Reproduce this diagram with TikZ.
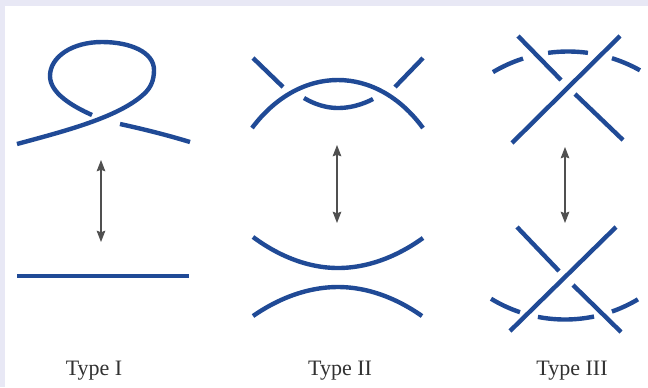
\documentclass[tikz,border=0pt]{standalone}
\usepackage{fontspec}
\setmainfont{Liberation Serif}
\usetikzlibrary{arrows.meta}
\definecolor{knot}{RGB}{32,74,150}
\definecolor{framebg}{RGB}{232,232,245}
\definecolor{arrowgray}{RGB}{80,80,80}
\definecolor{labelgray}{RGB}{50,50,50}
\begin{document}
\begin{tikzpicture}[x=0.75pt,y=-0.75pt,
  strand/.style={draw=knot,line width=3.3pt},
  move/.style={draw=arrowgray,line width=0.8pt,
    {Stealth[length=8.5pt,width=6.5pt,inset=1.2pt]}-{Stealth[length=8.5pt,width=6.5pt,inset=1.2pt]}},
  lbl/.style={anchor=base,font=\fontsize{16.5}{19}\selectfont,text=labelgray}]
\fill[framebg] (0,0) rectangle (648,387);
\fill[white] (5,6) rectangle (648,387);
\useasboundingbox (0,0) rectangle (648,387);

% ---------- Type I ----------
\draw[strand] (17,144) .. controls (65,131) and (120,117) .. (145,93)
  .. controls (151,87) and (154,80) .. (154,70)
  .. controls (154,52) and (130,42) .. (102,42)
  .. controls (72,42) and (50,57) .. (50,76)
  .. controls (50,93) and (72,106) .. (92,115);
\draw[strand] (120,124) .. controls (143,129) and (167,135) .. (190,142);
\draw[strand] (17,276) -- (189,276);
\coordinate (a1t) at (101,160);
\coordinate (a1b) at (101,242);
\draw[move] (a1t) -- (a1b);

% ---------- Type II ----------
\draw[strand] (252,128) .. controls (300,64) and (376,64) .. (423,128);
\draw[strand] (304,98) parabola bend (338,108) (373,99);
\draw[strand] (253,58) -- (283,87);
\draw[strand] (423,58) -- (395,87);
\draw[strand] (253,237) parabola bend (338,268) (423,238);
\draw[strand] (253,316) parabola bend (338,287) (422,316);
\coordinate (a2t) at (337,145);
\coordinate (a2b) at (337,223);
\draw[move] (a2t) -- (a2b);

% ---------- Type III ----------
\draw[strand] (512,143) -- (620,36);
\draw[strand] (518,36) -- (561,80);
\draw[strand] (575,94) -- (623,140);
\draw[strand] plot[domain=120.7:107.8,samples=20] ({568+147*cos(\x)},{198.5-147*sin(\x)});
\draw[strand] plot[domain=97.8:82.2,samples=20] ({568+147*cos(\x)},{198.5-147*sin(\x)});
\draw[strand] plot[domain=72.6:60.7,samples=20] ({568+147*cos(\x)},{198.5-147*sin(\x)});

\coordinate (a3t) at (565,147);
\coordinate (a3b) at (565,223);
\draw[move] (a3t) -- (a3b);

\draw[strand] (510,331) -- (616,227);
\draw[strand] (517,227) -- (559,271);
\draw[strand] (573,285) -- (621,332);
\draw[strand] plot[domain=121.4:108.5,samples=20] ({565+142*cos(\x)},{177.5+142*sin(\x)});
\draw[strand] plot[domain=101.0:78.2,samples=20] ({565+142*cos(\x)},{177.5+142*sin(\x)});
\draw[strand] plot[domain=70.7:59.1,samples=20] ({565+142*cos(\x)},{177.5+142*sin(\x)});

% ---------- labels ----------
\node[lbl] (t1) at (94,375) {Type I};
\node[lbl] (t2) at (340,375) {Type II};
\node[lbl] (t3) at (572,375) {Type III};
\end{tikzpicture}
\end{document}
